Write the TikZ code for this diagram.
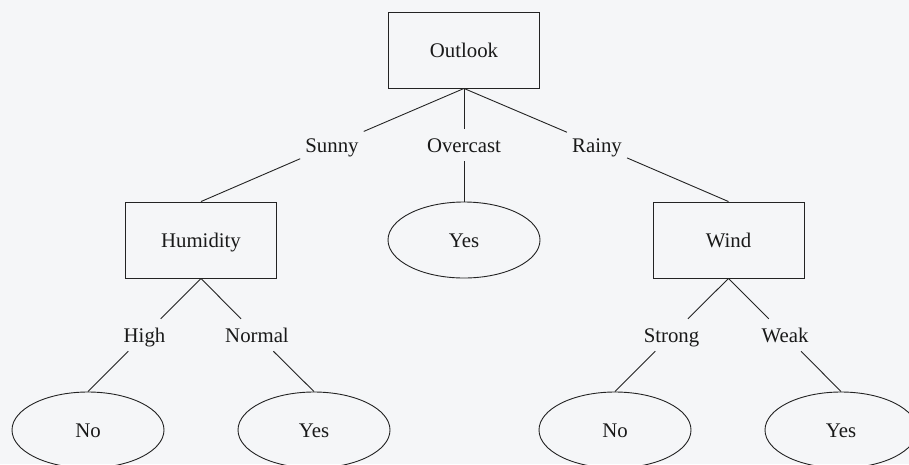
\documentclass[tikz,border=0pt]{standalone}
\usepackage{fontspec}
\setmainfont{Liberation Serif}
\usetikzlibrary{shapes.geometric}
\definecolor{paper}{RGB}{245,246,248}
\definecolor{ink}{RGB}{35,35,35}
\definecolor{textink}{RGB}{25,25,25}
\tikzset{
  every node/.style={font=\fontsize{20.8}{25}\selectfont, text=textink},
  attrbox/.style={draw=ink, line width=0.9pt, rectangle, minimum width=151pt,
    minimum height=76pt, inner sep=0pt, text height=14pt, text depth=0pt},
  leafnode/.style={draw=ink, line width=0.9pt, ellipse, minimum width=152pt,
    minimum height=76pt, inner sep=0pt, text height=14pt, text depth=0pt},
  branchlabel/.style={inner xsep=5pt, inner ysep=9pt, text height=14pt, text depth=0pt},
  edge/.style={draw=ink, line width=0.9pt}
}
\begin{document}
\begin{tikzpicture}[x=1pt, y=-1pt]
  \fill[paper] (0,0) rectangle (909,464);
  \useasboundingbox (0,0) rectangle (909,464);

  % root test
  \node[attrbox] (outlook) at (464,50) {Outlook};

  % first level branch values
  \node[branchlabel] (sunny)    at (332,145) {Sunny};
  \node[branchlabel] (overcast) at (464,145) {Overcast};
  \node[branchlabel] (rainy)    at (597,145) {Rainy};

  % second level
  \node[attrbox]  (humidity) at (201,240)   {Humidity};
  \node[leafnode] (yesmid)   at (464,240)   {Yes};
  \node[attrbox]  (wind)     at (728.5,240) {Wind};

  % second level branch values
  \node[branchlabel] (high)   at (144.5,335) {High};
  \node[branchlabel] (normal) at (257,335)   {Normal};
  \node[branchlabel] (strong) at (671.5,335) {Strong};
  \node[branchlabel] (weak)   at (785,335)   {Weak};

  % leaves
  \node[leafnode] (nohum)   at (88,430)  {No};
  \node[leafnode] (yeshum)  at (314,430) {Yes};
  \node[leafnode] (nowind)  at (615,430) {No};
  \node[leafnode] (yeswind) at (841,430) {Yes};

  % connectors
  \draw[edge] (outlook.south) -- (sunny);
  \draw[edge] (outlook.south) -- (overcast);
  \draw[edge] (outlook.south) -- (rainy);
  \draw[edge] (sunny) -- (humidity.north);
  \draw[edge] (overcast) -- (yesmid.north);
  \draw[edge] (rainy) -- (wind.north);

  \draw[edge] (humidity.south) -- (high);
  \draw[edge] (humidity.south) -- (normal);
  \draw[edge] (wind.south) -- (strong);
  \draw[edge] (wind.south) -- (weak);

  \draw[edge] (high) -- (nohum.north);
  \draw[edge] (normal) -- (yeshum.north);
  \draw[edge] (strong) -- (nowind.north);
  \draw[edge] (weak) -- (yeswind.north);
\end{tikzpicture}
\end{document}
